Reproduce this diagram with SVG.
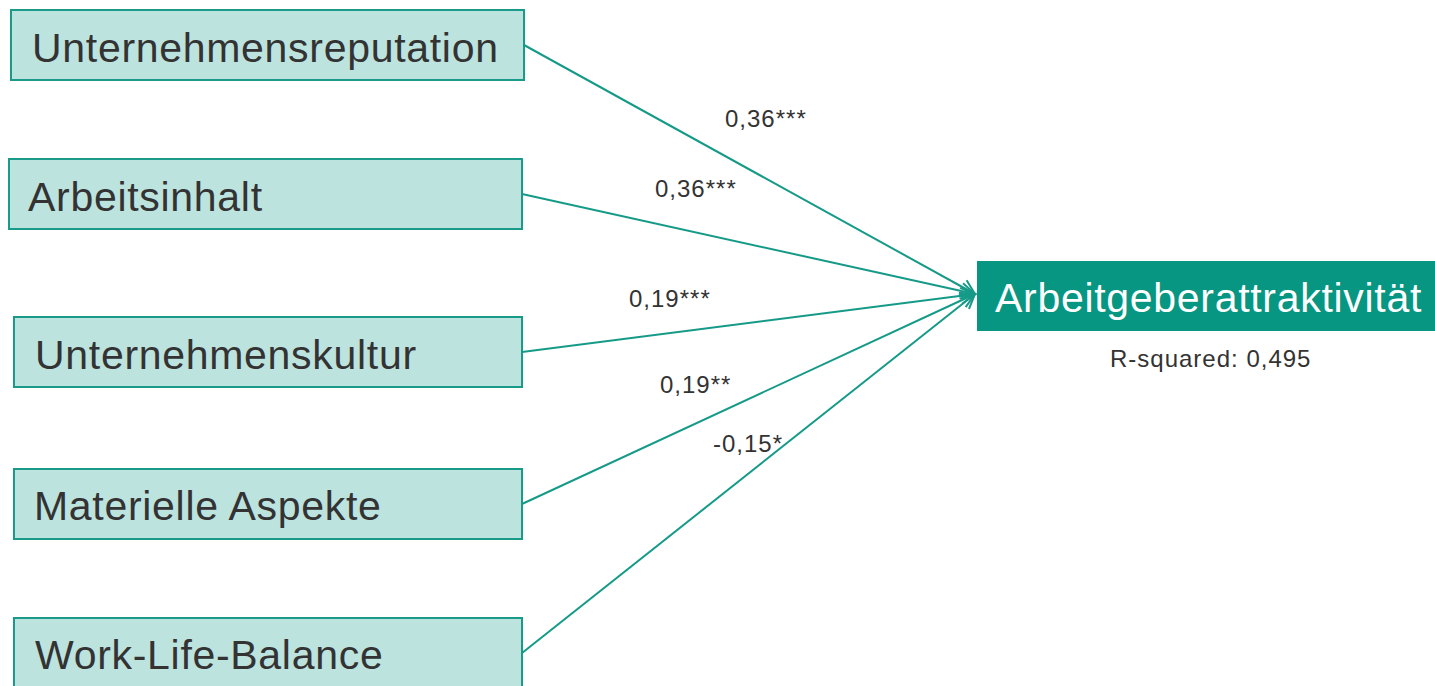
<svg xmlns="http://www.w3.org/2000/svg" width="1435" height="686" viewBox="0 0 1435 686">
<defs>
<style>
.src rect{fill:#bde3df;stroke:#1a9a88;stroke-width:2}
.src text{font-family:"Liberation Sans",Arial,sans-serif;font-size:41px;letter-spacing:0.7px;fill:#333333}
.lbl{font-family:"Liberation Sans",Arial,sans-serif;font-size:24px;letter-spacing:1px;fill:#333333}
.conn line{stroke:#169a88;stroke-width:2;fill:none}
</style>
<marker id="arr" viewBox="0 0 20 20" refX="18" refY="10" markerWidth="20" markerHeight="20" markerUnits="userSpaceOnUse" orient="auto">
<polyline points="4,2 18,10 4,18" fill="none" stroke="#169a88" stroke-width="2"/>
</marker>
</defs>
<rect width="1435" height="686" fill="#ffffff"/>
<g id="n1" class="src"><rect x="11" y="10" width="513" height="70"/><text x="32" y="62">Unternehmensreputation</text></g>
<g id="n2" class="src"><rect x="9" y="159" width="513" height="70"/><text x="28" y="211">Arbeitsinhalt</text></g>
<g id="n3" class="src"><rect x="14" y="317" width="508" height="70"/><text x="35" y="369">Unternehmenskultur</text></g>
<g id="n4" class="src"><rect x="14" y="469" width="508" height="70"/><text x="34" y="520">Materielle Aspekte</text></g>
<g id="n5" class="src"><rect x="14" y="618" width="508" height="80"/><text x="35" y="669">Work-Life-Balance</text></g>
<g id="target">
<rect x="977" y="261" width="460" height="70" fill="#069682"/>
<text x="995" y="312" font-family="'Liberation Sans',Arial,sans-serif" font-size="41" letter-spacing="0.7" fill="#ffffff">Arbeitgeberattraktivität</text>
<text x="1110" y="367" class="lbl">R-squared: 0,495</text>
</g>
<g id="connectors" class="conn">
<line x1="524" y1="45" x2="975" y2="294" marker-end="url(#arr)"/>
<line x1="522" y1="194" x2="975" y2="294" marker-end="url(#arr)"/>
<line x1="522" y1="352" x2="975" y2="294" marker-end="url(#arr)"/>
<line x1="522" y1="504" x2="975" y2="294" marker-end="url(#arr)"/>
<line x1="522" y1="653" x2="975" y2="294" marker-end="url(#arr)"/>
</g>
<g id="labels">
<text class="lbl" x="725" y="127">0,36***</text>
<text class="lbl" x="655" y="197">0,36***</text>
<text class="lbl" x="629" y="307">0,19***</text>
<text class="lbl" x="660" y="393">0,19**</text>
<text class="lbl" x="713" y="452">-0,15*</text>
</g>
</svg>
